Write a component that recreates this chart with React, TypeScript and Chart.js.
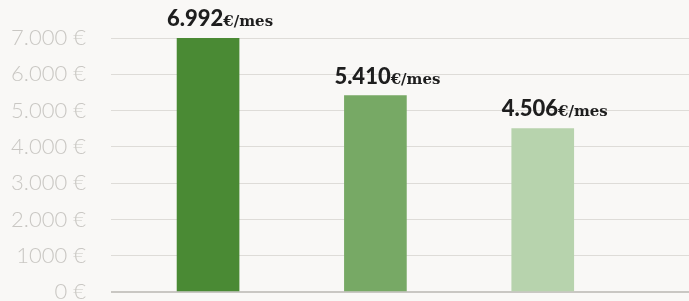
import React, { useEffect, useRef } from "react";
import { Chart, registerables } from "chart.js";

Chart.register(...registerables);

const categories = ["A", "B", "C"];
const values = [6992, 5410, 4506];
const valueLabels = ["6.992", "5.410", "4.506"];
const unitLabel = "€/mes";
const tickLabels = ["0 €", "1000 €", "2.000 €", "3.000 €", "4.000 €", "5.000 €", "6.000 €", "7.000 €"];
const barColors = ["#4a8a34", "#77a965", "#b7d3ad"];

const labelPlugin = {
  id: "barLabels",
  afterDatasetsDraw(chart: any) {
    const ctx = chart.ctx;
    const meta = chart.getDatasetMeta(0);
    meta.data.forEach((bar: any, i: number) => {
      const num = valueLabels[i];
      ctx.save();
      ctx.font = "900 22px Lato";
      const w1 = ctx.measureText(num).width;
      ctx.font = "bold 15px 'DejaVu Serif'";
      const w2 = ctx.measureText(unitLabel).width;
      const total = w1 + w2;
      const cx = bar.x + 12;
      const x0 = cx - total / 2;
      const y = bar.y - 12;
      ctx.textBaseline = "alphabetic";
      ctx.textAlign = "left";
      ctx.fillStyle = "#1e1e1e";
      ctx.font = "900 22px Lato";
      ctx.fillText(num, x0, y);
      ctx.font = "bold 15px 'DejaVu Serif'";
      ctx.fillText(unitLabel, x0 + w1, y);
      ctx.restore();
    });
  },
};

export default function App() {
  const ref = useRef<HTMLCanvasElement | null>(null);
  useEffect(() => {
    document.body.style.margin = "0";
    document.body.style.background = "#f9f8f6";
    const chart = new Chart(ref.current as HTMLCanvasElement, {
      type: "bar",
      data: {
        datasets: [
          {
            label: "valor",
            data: categories.map((c, i) => ({ x: i + 1, y: values[i] })),
            backgroundColor: barColors,
            barThickness: 62,
            borderWidth: 0,
          },
        ],
      },
      options: {
        animation: false,
        responsive: false,
        maintainAspectRatio: false,
        layout: { padding: { top: 38, bottom: 9, left: 0, right: 0 } },
        plugins: { legend: { display: false }, tooltip: { enabled: false } },
        scales: {
          x: {
            type: "linear",
            min: 0.42,
            max: 3.874,
            offset: false,
            display: false,
          },
          y: {
            min: 0,
            max: 7000,
            afterFit(scale: any) {
              scale.width = 111;
              scale.paddingTop = 0;
              scale.paddingBottom = 0;
            },
            border: { display: false },
            grid: {
              drawTicks: false,
              color: (c: any) => (c.tick && c.tick.value === 0 ? "#c9c7c3" : "#dedcd8"),
              lineWidth: (c: any) => (c.tick && c.tick.value === 0 ? 2 : 1),
            },
            ticks: {
              stepSize: 1000,
              padding: 25,
              color: "#c9c7c3",
              font: { family: "Lato", weight: "300", size: 22 },
              callback: (v: any, i: number) => tickLabels[i],
            },
          },
        },
      },
      plugins: [labelPlugin],
    } as any);
    return () => chart.destroy();
  }, []);
  return (
    <div style={{ width: 689, height: 301, background: "#f9f8f6" }}>
      <canvas ref={ref} width={689} height={301} style={{ display: "block" }} />
    </div>
  );
}
